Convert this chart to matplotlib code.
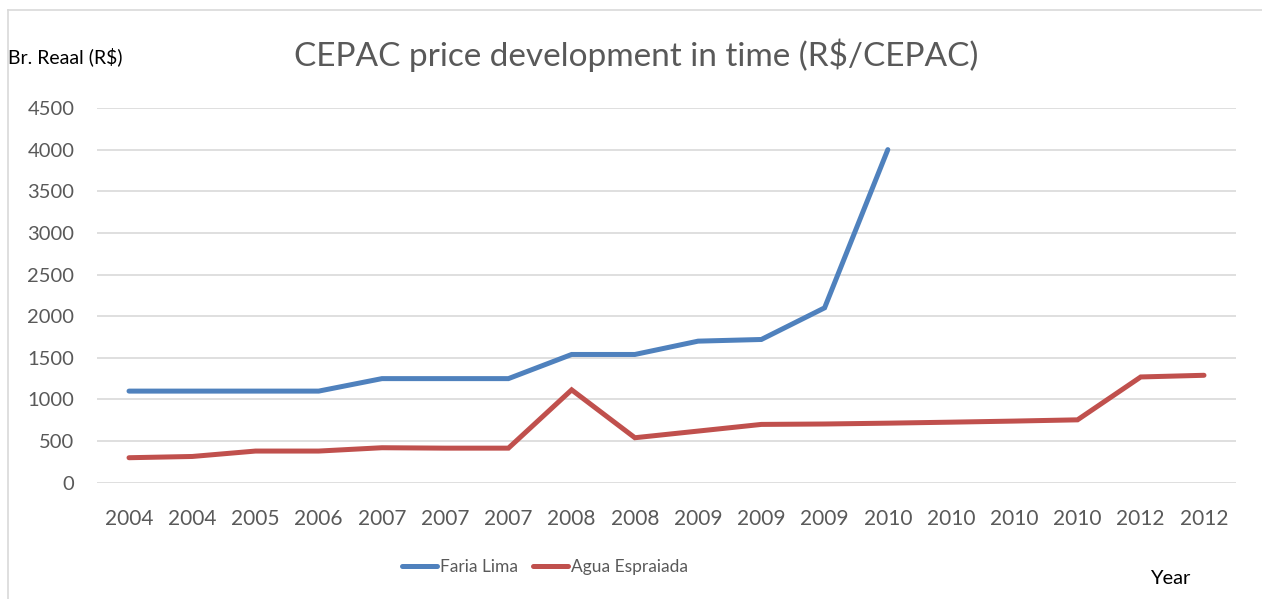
import matplotlib
matplotlib.use("Agg")
import matplotlib.pyplot as plt
from matplotlib.lines import Line2D

plt.rcParams['font.family'] = ['Lato', 'DejaVu Sans']

year_labels = ["2004", "2004", "2005", "2006", "2007", "2007", "2007", "2008", "2008",
               "2009", "2009", "2009", "2010", "2010", "2010", "2010", "2012", "2012"]
faria_lima = [1100, 1100, 1100, 1100, 1250, 1250, 1250, 1540, 1540, 1700, 1720, 2100, 4000]
agua_espraiada = [300, 315, 380, 380, 420, 415, 415, 1115, 540, 620, 700, 705, 715, 727,
                  740, 755, 1270, 1290]
y_ticks = [0, 500, 1000, 1500, 2000, 2500, 3000, 3500, 4000, 4500]

W, H = 1262, 599
fig = plt.figure(figsize=(W / 100, H / 100), dpi=100)
ax = fig.add_axes([97.4 / W, 1 - 482.7 / H, (1235.6 - 97.4) / W, (482.7 - 108) / H])

grey = "#595959"
blue = "#4f81bd"
red = "#c0504d"

ax.plot(range(len(faria_lima)), faria_lima, color=blue, lw=3.6, solid_capstyle='round',
        solid_joinstyle='miter', label="Faria Lima")
ax.plot(range(len(agua_espraiada)), agua_espraiada, color=red, lw=3.6, solid_capstyle='round',
        solid_joinstyle='miter', label="Agua Espraiada")

ax.set_xlim(-0.5, len(year_labels) - 0.5)
ax.set_ylim(0, 4500)
ax.set_yticks(y_ticks)
ax.set_xticks(range(len(year_labels)))
ax.set_xticklabels(year_labels)
ax.grid(axis='y', color="#d9d9d9", lw=1.2)
ax.set_axisbelow(True)
for s in ax.spines.values():
    s.set_visible(False)
ax.tick_params(axis='both', length=0, labelsize=14.5, labelcolor=grey)
ax.tick_params(axis='x', labelsize=15)
ax.tick_params(axis='y', pad=16.5)
ax.tick_params(axis='x', pad=19)

fig.text(636 / W, 1 - 55 / H, "CEPAC price development in time (R$/CEPAC)",
         ha='center', va='center', fontsize=24, color=grey)
fig.text(8 / W, 1 - 57 / H, "Br. Reaal (R$)", ha='left', va='center', fontsize=14, color='black')
fig.text(1170 / W, 1 - 579 / H, "Year", ha='center', va='center', fontsize=14.5, color='black')

handles = [Line2D([], [], color=blue, lw=3.6, solid_capstyle='round'),
           Line2D([], [], color=red, lw=3.6, solid_capstyle='round')]
leg = fig.legend(handles, ["Faria Lima", "Agua Espraiada"], loc='center',
                 bbox_to_anchor=(545 / W, 1 - 567 / H), ncol=2, frameon=False,
                 fontsize=12.5, handlelength=2.0, handletextpad=0.15, columnspacing=0.9)
for t in leg.get_texts():
    t.set_color(grey)

# chart border (partially visible frame)
fig.add_artist(Line2D([8 / W, 1], [1 - 10 / H, 1 - 10 / H], color="#d9d9d9", lw=1.2,
                      transform=fig.transFigure))
fig.add_artist(Line2D([8 / W, 8 / W], [1 - 10 / H, 0], color="#d9d9d9", lw=1.2,
                      transform=fig.transFigure))

fig.savefig("out.png", dpi=100)
